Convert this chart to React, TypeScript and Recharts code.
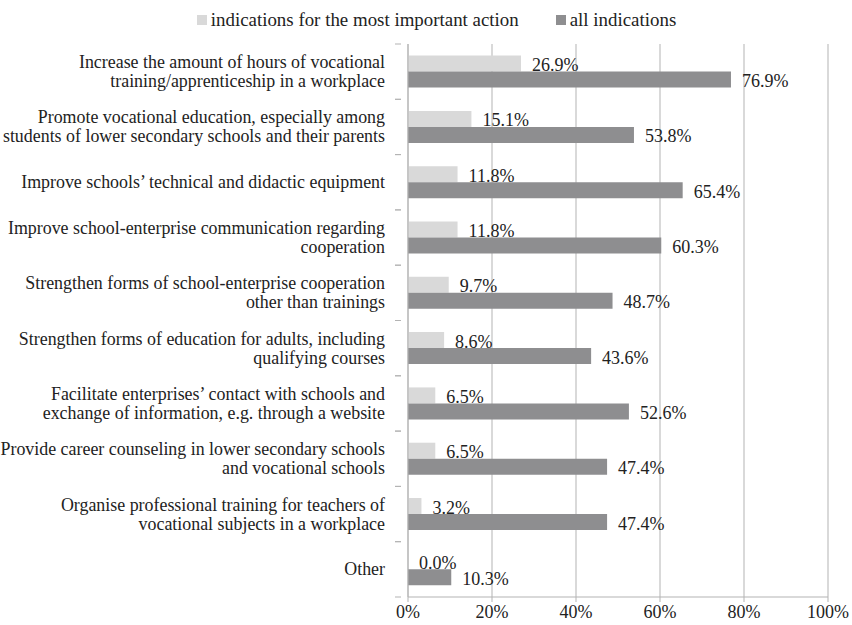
import { BarChart, Bar, XAxis, YAxis, CartesianGrid, Legend, LabelList } from 'recharts';

const categories = [
  'Increase the amount of hours of vocational\ntraining/apprenticeship in a workplace',
  'Promote vocational education, especially among\nstudents of lower secondary schools and their parents',
  'Improve schools\u2019 technical and didactic equipment',
  'Improve school-enterprise communication regarding\ncooperation',
  'Strengthen forms of school-enterprise cooperation\nother than trainings',
  'Strengthen forms of education for adults, including\nqualifying courses',
  'Facilitate enterprises\u2019 contact with schools and\nexchange of information, e.g. through a website',
  'Provide career counseling in lower secondary schools\nand vocational schools',
  'Organise professional training for teachers of\nvocational subjects in a workplace',
  'Other',
];
const mostImportant = [26.9, 15.1, 11.8, 11.8, 9.7, 8.6, 6.5, 6.5, 3.2, 0.0];
const allIndications = [76.9, 53.8, 65.4, 60.3, 48.7, 43.6, 52.6, 47.4, 47.4, 10.3];
const xTicks = [0, 20, 40, 60, 80, 100];

const FONT = 'Liberation Serif';
const LIGHT = '#d9d9d9';
const DARK = '#8e8e90';
const GRID = '#b3b3b3';
const TEXT = '#222222';

const data = categories.map((name, i) => ({
  name,
  most: mostImportant[i],
  all: allIndications[i],
}));

const BAND = 553 / categories.length;

function CategoryTick(props: any) {
  const { x, y, payload } = props;
  const lines: string[] = String(payload.value).split('\n');
  const lh = 19;
  const start = y - ((lines.length - 1) * lh) / 2;
  return (
    <g>
      <line x1={x - 5} x2={x + 1} y1={y - BAND / 2} y2={y - BAND / 2} stroke={GRID} />
      <line x1={x - 5} x2={x + 1} y1={y + BAND / 2} y2={y + BAND / 2} stroke={GRID} />
      <text x={x - 15} y={start} textAnchor="end" fontFamily={FONT} fontSize={17.9} fill={TEXT}>
        {lines.map((l, i) => (
          <tspan key={i} x={x - 15} y={start + i * lh} dominantBaseline="central">
            {l}
          </tspan>
        ))}
      </text>
    </g>
  );
}

function valueLabel(props: any) {
  const { x, y, width, height, value } = props;
  return (
    <text
      x={x + Math.max(0, width) + 11}
      y={y + height / 2 + 1.5}
      dominantBaseline="central"
      fontFamily={FONT}
      fontSize={18}
      fill={TEXT}
    >
      {Number(value).toFixed(1)}%
    </text>
  );
}

function LegendContent() {
  const items = [
    { label: 'indications for the most important action', color: LIGHT },
    { label: 'all indications', color: DARK },
  ];
  return (
    <div style={{ display: 'flex', justifyContent: 'center', gap: 37, paddingLeft: 45, fontFamily: FONT, fontSize: 18.9, color: TEXT, height: 24, alignItems: 'center' }}>
      {items.map((it) => (
        <div key={it.label} style={{ display: 'flex', alignItems: 'center' }}>
          <span style={{ width: 10, height: 10, background: it.color, display: 'inline-block', marginRight: 4 }} />
          <span>{it.label}</span>
        </div>
      ))}
    </div>
  );
}

export default function App() {
  return (
    <div style={{ position: 'absolute', left: 0, top: 0, background: '#fff' }}>
      <BarChart
        width={852}
        height={625}
        data={data}
        layout="vertical"
        margin={{ top: 20, right: 24, bottom: 0, left: 0 }}
        barCategoryGap="21%"
        barGap={0}
      >
        <Legend verticalAlign="top" align="center" content={<LegendContent />} wrapperStyle={{ top: 8 }} />
        <CartesianGrid horizontal={false} stroke={GRID} />
        <XAxis
          type="number"
          domain={[0, 100]}
          ticks={xTicks}
          tickFormatter={(v) => `${v}%`}
          tick={{ fontFamily: FONT, fontSize: 18, fill: TEXT }}
          axisLine={{ stroke: GRID }}
          tickLine={{ stroke: GRID }}
          tickSize={5}
          tickMargin={3}
          height={28}
        />
        <YAxis
          type="category"
          dataKey="name"
          width={408}
          axisLine={{ stroke: GRID }}
          tickLine={false}
          tick={<CategoryTick />}
          interval={0}
        />
        <Bar dataKey="most" fill={LIGHT} minPointSize={0.01} isAnimationActive={false}>
          <LabelList dataKey="most" content={valueLabel} />
        </Bar>
        <Bar dataKey="all" fill={DARK} isAnimationActive={false}>
          <LabelList dataKey="all" content={valueLabel} />
        </Bar>
      </BarChart>
    </div>
  );
}
